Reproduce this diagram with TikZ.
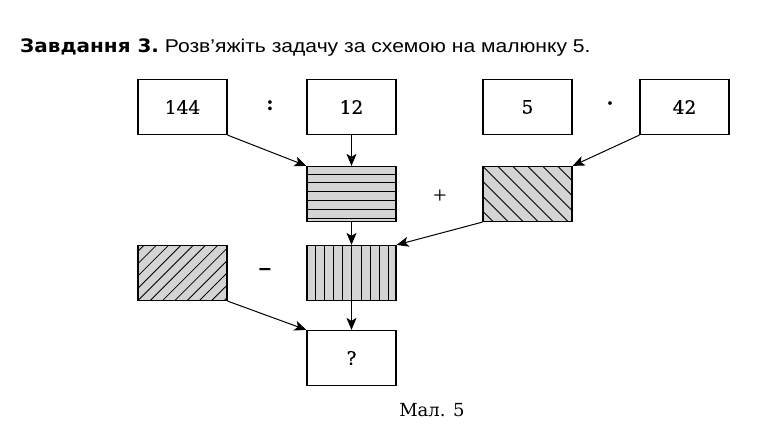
\documentclass[tikz,border=0pt]{standalone}
\usepackage{fontspec}
\setmainfont{DejaVu Serif}
\newfontfamily\numfont[FakeBold=0.6]{DejaVu Serif}
\newfontfamily\titlefont{Liberation Sans}
\newfontfamily\heavyfont{DejaVu Sans}
\newfontfamily\thinfont{Liberation Serif}
\usetikzlibrary{arrows.meta}
\definecolor{hatchgray}{gray}{0.83}
\tikzset{
    box/.style={
        draw,
        line width=1.2pt,
        minimum width=89pt,
        minimum height=55pt,
        inner sep=0pt,
        font=\numfont\fontsize{18.5}{22}\selectfont,
    },
    hlines/.style={
        box,
        fill=hatchgray,
        path picture={
            \foreach \k in {0,...,5}
                \draw [line width=1pt] ([yshift=-7.5pt-\k*8.8pt]path picture bounding box.north west) -- ++(100pt,0pt);
        }
    },
    vlines/.style={
        box,
        fill=hatchgray,
        path picture={
            \foreach \k in {0,...,8}
                \draw [line width=1pt] ([xshift=8pt+\k*9.2pt]path picture bounding box.north west) -- ++(0pt,-60pt);
        }
    },
    backhatch/.style={
        box,
        fill=hatchgray,
        path picture={
            \foreach \k in {-5,...,7}
                \draw [line width=1pt] ([xshift=\k*15pt]path picture bounding box.north west) -- ++(60pt,-60pt);
        }
    },
    forehatch/.style={
        box,
        fill=hatchgray,
        path picture={
            \foreach \k in {-5,...,8}
                \draw [line width=0.8pt] ([xshift=\k*12.3pt]path picture bounding box.south west) -- ++(60pt,60pt);
        }
    },
    sign/.style={font=\fontsize{20}{24}\selectfont},
    link/.style={-{Stealth[length=12pt,width=10pt,inset=3pt]}, line width=1pt},
}
\begin{document}
\begin{tikzpicture}[x=1pt, y=-1pt]
    \useasboundingbox (0,0) rectangle (759,432);
    % Task line
    \node[anchor=west, inner sep=0pt, font=\fontsize{18.5}{22}\selectfont] (task) at (20,48)
      {\scalebox{1.08}[1]{\heavyfont\bfseries Завдання 3.}\ \titlefont\mdseries\scalebox{1.14}[1]{Розв’яжіть задачу за схемою на малюнку 5.}};

    % First row, numbers
    \node[box] (n144) at (182.5,107) {144};
    \node[sign] (colon) at (270,106) {\textbf{:}};
    \node[box] (n12) at (351.5,107) {12};
    \node[box] (n5) at (527.5,107) {5};
    \node[sign] (dot) at (610,106) {\textbf{·}};
    \node[box] (n42) at (684.5,107) {42};

    % Second row, quotient and product
    \node[hlines] (quot) at (351.5,194) {};
    \node[sign, font=\thinfont\fontsize{24}{26}\selectfont] (plus) at (440,197) {+};
    \node[backhatch] (prod) at (527.5,194) {};

    % Third row, minuend and sum
    \node[forehatch] (minu) at (182.5,273) {};
    \node[sign, font=\titlefont\bfseries\fontsize{22}{24}\selectfont] (minus) at (265,272) {–};
    \node[vlines] (summ) at (351.5,273) {};

    % Answer
    \node[box] (answ) at (351.5,358) {?};

    % Arrows
    \draw[link] (n144.south east) -- (quot.north west);
    \draw[link] (n12) -- (quot);
    \draw[link] (n42.south west) -- (prod.north east);
    \draw[link] (quot) -- (summ);
    \draw[link] (prod.south west) -- (summ.north east);
    \draw[link] (minu.south east) -- (answ.north west);
    \draw[link] (summ) -- (answ);

    % Caption
    \node[font=\fontsize{18}{20}\selectfont] (capt) at (432,410) {Мал. 5};
\end{tikzpicture}
\end{document}
